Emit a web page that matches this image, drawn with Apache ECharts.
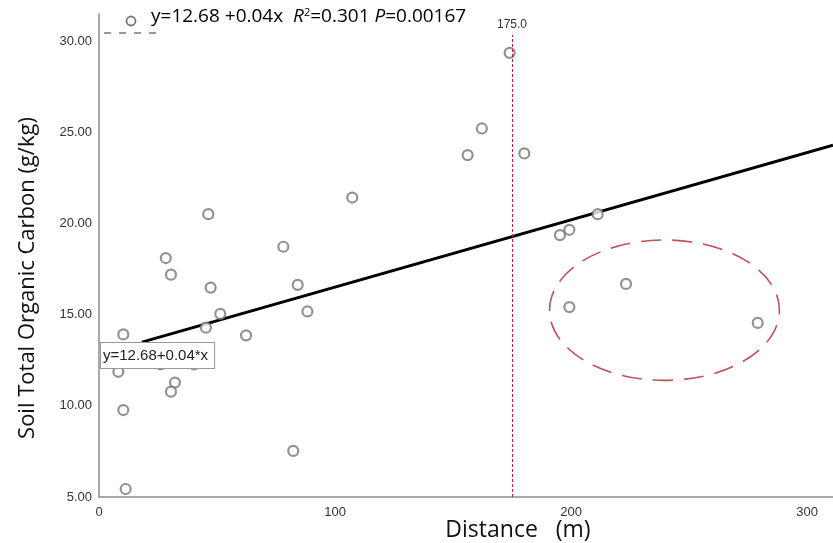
<!DOCTYPE html>
<html><head><meta charset="utf-8">
<script src="https://cdn.jsdelivr.net/npm/echarts@6/dist/echarts.min.js"></script>
<style>html,body{margin:0;padding:0;background:#fff}#c{width:833px;height:543px}</style>
</head><body><div id="c"></div>
<script>
const distance = [174.0, 162.2, 156.2, 180.2, 107.3, 46.3, 78.1, 28.3, 30.5, 84.2, 47.3, 88.3, 51.4, 45.3, 62.3, 10.3, 8.2, 26.1, 40.3, 32.2, 30.5, 10.3, 82.3, 11.3, 195.3, 199.3, 211.3, 223.3, 199.3, 279.1];
const carbon   = [29.37, 25.22, 23.76, 23.85, 21.43, 20.52, 18.73, 18.11, 17.2, 16.64, 16.49, 15.18, 15.05, 14.29, 13.87, 13.92, 11.87, 12.27, 12.27, 11.28, 10.78, 9.77, 7.53, 5.44, 19.37, 19.66, 20.52, 16.69, 15.42, 14.55];
const fitX = [18.2, 311];
const fitY = [13.5, 24.3];
const xTicks = [0, 100, 200, 300];
const yTicks = [5, 10, 15, 20, 25, 30];
const thresholdX = 175;
const thresholdTop = 30.35;
const ellipseCenter = [239.6, 15.25];
const ellipseRadius = [48.7, 3.85];
const fitLabelAnchor = [0, 12.68];
const fitLabel = 'y=12.68+0.04*x';
const xTitle = 'Distance   (m)';
const yTitle = 'Soil Total Organic Carbon (g/kg)';

const points = distance.map((d, i) => [d, carbon[i]]);
const fitLine = fitX.map((x, i) => [x, fitY[i]]);

const chart = echarts.init(document.getElementById('c'));
chart.setOption({
  animation: false,
  backgroundColor: '#fff',
  grid: {left: 99, right: 0, top: 14, bottom: 46, containLabel: false, outerBoundsMode: 'none'},
  xAxis: {
    type: 'value', min: 0, max: 311, interval: 100,
    axisLine: {show: true, lineStyle: {color: '#8c8c8c', width: 1.5}},
    axisTick: {show: false}, splitLine: {show: false},
    axisLabel: {showMaxLabel: false, color: '#333', fontSize: 13, fontFamily: 'Liberation Sans', margin: 9,
      formatter: v => xTicks.includes(v) ? String(v) : ''}
  },
  yAxis: {
    type: 'value', min: 5, max: 31.5, interval: 5,
    axisLine: {show: true, lineStyle: {color: '#8c8c8c', width: 1.5}},
    axisTick: {show: false}, splitLine: {show: false},
    axisLabel: {showMaxLabel: false, color: '#333', fontSize: 13, fontFamily: 'Liberation Sans', margin: 7,
      formatter: v => yTicks.includes(v) ? v.toFixed(2) : ''}
  },
  series: [
    {
      type: 'line', data: fitLine, symbol: 'none', z: 3,
      lineStyle: {color: '#000', width: 3}
    },
    {
      type: 'scatter', data: points, symbol: 'circle', symbolSize: 10, z: 4,
      itemStyle: {color: '#fff', borderColor: '#777', borderWidth: 2.2},
      markLine: {
        silent: true, symbol: 'none',
        lineStyle: {color: '#c8174a', type: [3, 2], width: 1},
        label: {show: true, position: 'end', formatter: '175.0', color: '#333', fontSize: 12, fontFamily: 'Liberation Sans', distance: 4},
        data: [[{coord: [thresholdX, 5]}, {coord: [thresholdX, thresholdTop]}]]
      }
    }
  ]
});

function drawGraphics() {
  const c = chart.convertToPixel({gridIndex: 0}, ellipseCenter);
  const e = chart.convertToPixel({gridIndex: 0}, [ellipseCenter[0] + ellipseRadius[0], ellipseCenter[1] + ellipseRadius[1]]);
  const a = chart.convertToPixel({gridIndex: 0}, fitLabelAnchor);
  chart.setOption({
    graphic: [
      {type: 'ellipse', z: 10, shape: {cx: c[0], cy: c[1], rx: Math.abs(e[0] - c[0]), ry: Math.abs(c[1] - e[1])},
       style: {fill: 'none', stroke: '#c0505a', lineWidth: 1.6, lineDash: [20, 11]}},
      {type: 'text', z: 20, left: a[0] + 1, top: a[1] - 15,
       style: {text: fitLabel, font: '15px "Liberation Sans"', fill: '#222',
         backgroundColor: '#fff', borderColor: '#999', borderWidth: 1, padding: [5, 6, 5, 2]}},
      {type: 'circle', z: 20, shape: {cx: 131, cy: 21, r: 4.5}, style: {fill: '#fff', stroke: '#7a7a7a', lineWidth: 1.8}},
      {type: 'line', z: 20, shape: {x1: 104, y1: 33, x2: 164, y2: 33}, style: {stroke: '#333', lineWidth: 1, lineDash: [7, 8]}},
      {type: 'text', z: 20, left: 151, top: 7,
       style: {text: '{n|y=12.68 +0.04x  }{i|R}{s|2}{n|=0.301 }{i|P}{n|=0.00167}',
         rich: {
           n: {fontSize: 19, fontFamily: 'Open Sans', color: '#111'},
           i: {fontSize: 19, fontFamily: 'Open Sans', fontStyle: 'italic', color: '#111'},
           s: {fontSize: 11, fontFamily: 'Open Sans', color: '#111', verticalAlign: 'top', padding: [0, 0, 9, 0]}
         }}},
      {type: 'text', z: 20, x: 518, y: 530,
       style: {text: xTitle, font: '23px "Open Sans"', fill: '#111', align: 'center', verticalAlign: 'middle'}},
      {type: 'text', z: 20, x: 28, y: 278, rotation: Math.PI / 2,
       style: {text: yTitle, font: '22px "Open Sans"', fill: '#111', align: 'center', verticalAlign: 'middle'}}
    ]
  });
}
drawGraphics();
</script>
</body></html>
